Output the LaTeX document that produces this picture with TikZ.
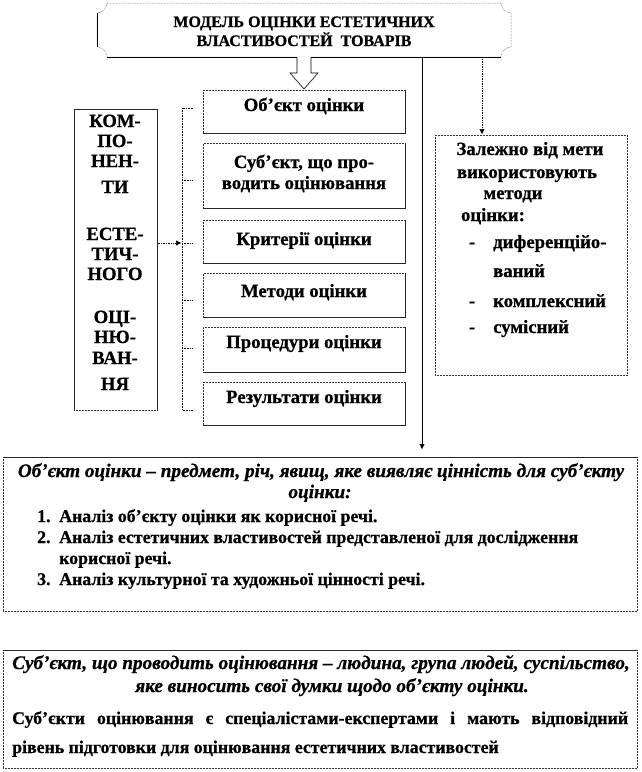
\documentclass[tikz,border=0pt]{standalone}
\usepackage{fontspec}
\setmainfont{Liberation Serif}[BoldFeatures={FakeBold=0.8}, BoldItalicFeatures={FakeBold=0.8}]
\usetikzlibrary{arrows.meta}
\begin{document}
\begin{tikzpicture}[x=1pt,y=-1pt,
  bx/.style={draw=black!80, densely dotted, line width=0.5pt, inner sep=0pt, anchor=north west},
  solidedge/.style={draw=black!85, line width=0.6pt},
  tx/.style={font=\fontsize{18.7}{21}\selectfont\bfseries, inner sep=0pt, anchor=base},
  tb/.style={font=\fontsize{17.8}{21}\selectfont\bfseries, inner sep=0pt, anchor=base west},
  ti/.style={font=\fontsize{19.2}{22}\selectfont\bfseries\itshape, inner sep=0pt, anchor=base},
  tt/.style={font=\fontsize{16}{19}\selectfont\bfseries, inner sep=0pt, anchor=base},
  arr/.style={-{Triangle[length=5pt,width=5pt]}, line width=0.6pt},
  dotarr/.style={-{Triangle[length=5pt,width=5pt]}, line width=0.7pt, densely dotted}
]
\useasboundingbox (0,0) rectangle (642,772);
\fill[white] (0,0) rectangle (642,772);

% title plaque
\node[inner sep=0pt, minimum width=414pt, minimum height=54pt] (title) at (304,30) {};
\draw[draw=black!80, line width=0.5pt, densely dotted, fill=white]
  (107,3) -- (501,3) .. controls (501,8) and (506,13) .. (511,13) -- (511,47)
  .. controls (506,47) and (501,52) .. (501,57) -- (107,57)
  .. controls (107,52) and (102,47) .. (97,47) -- (97,13)
  .. controls (102,13) and (107,8) .. cycle;
\draw[line width=1pt] (107,57) -- (501,57);
\draw[line width=0.6pt] (97,13) -- (97,47);
\node[tt] (tl1) at (304,27) {МОДЕЛЬ ОЦІНКИ ЕСТЕТИЧНИХ};
\node[tt] (tl2) at (304,46) {ВЛАСТИВОСТЕЙ\ \ ТОВАРІВ};

% centre boxes
\node[bx, minimum width=202pt, minimum height=43pt] (b1) at (203,90) {};
\node[bx, minimum width=202pt, minimum height=65pt] (b2) at (203,143) {};
\node[bx, minimum width=202pt, minimum height=43pt] (b3) at (203,220) {};
\node[bx, minimum width=202pt, minimum height=44pt] (b4) at (203,273) {};
\node[bx, minimum width=202pt, minimum height=45pt] (b5) at (203,327) {};
\node[bx, minimum width=202pt, minimum height=43pt] (b6) at (203,382) {};
\foreach \n in {b1,b2,b3,b4,b5,b6}
  \draw[solidedge] (\n.north east) -- (\n.south east) -- (\n.south west);
\node[tx] (b1t) at (304,111) {Об’єкт оцінки};
\node[tx] (b2t) at (304,168) {Суб’єкт, що про-};
\node[tx] (b2u) at (304,189) {водить оцінювання};
\node[tx] (b3t) at (304,245) {Критерії оцінки};
\node[tx] (b4t) at (304,297) {Методи оцінки};
\node[tx] (b5t) at (304,348) {Процедури оцінки};
\node[tx] (b6t) at (304,403) {Результати оцінки};

% hollow arrow from title to first box
\draw[fill=white, line width=0.6pt]
  (297,57) -- (297,73) -- (290,73) -- (304,89) -- (318,73) -- (311,73) -- (311,57);

% left box
\node[bx, minimum width=83pt, minimum height=301pt] (lb) at (74,109) {};
\draw[solidedge] (lb.north west) -- (lb.north east) -- (lb.south east);
\draw[solidedge] (lb.north west) -- (lb.south west);
\foreach \t/\y [count=\i] in {КОМ-/127, ПО-/147, НЕН-/167, ТИ/193, ЕСТЕ-/240, ТИЧ-/260, НОГО/280, ОЦІ-/323, НЮ-/343, ВАН-/364, НЯ/390}
  \node[tx] (lt\i) at (115,\y) {\t};

% bracket
\draw[line width=0.6pt, densely dotted] (193,108) -- (182,108) -- (182,410) -- (193,410);
\foreach \y in {180,243,300,348}
  \draw[line width=0.6pt, densely dotted] (182,\y) -- (193,\y);
\coordinate (brk) at (181,243);
\draw[dotarr] (lb.east |- brk) -- (brk);

% right box
\node[bx, minimum width=192pt, minimum height=240pt] (rb) at (435,135) {};
\coordinate (t2) at (482,134);
\draw[dotarr] (title.south -| t2) -- (t2);
\node[tx] (r1) at (530,155) {Залежно від мети};
\node[tx] (r2) at (527,178) {використовують};
\node[tx] (r3) at (513,199) {методи};
\node[tx] (r4) at (493,221) {оцінки:};
\node[tx] (d1) at (472,248) {-};
\node[tx, anchor=base west] (r5) at (493,248) {диференційо-};
\node[tx, anchor=base west] (r6) at (493,277) {ваний};
\node[tx] (d2) at (472,307) {-};
\node[tx, anchor=base west] (r7) at (493,307) {комплексний};
\node[tx] (d3) at (472,333) {-};
\node[tx, anchor=base west] (r8) at (493,333) {сумісний};

% bottom box 1
\node[bx, minimum width=634pt, minimum height=154pt] (ob) at (3,457) {};
\draw[solidedge] (ob.north west) -- (ob.north east);
\coordinate (t1) at (422,449);
\draw[arr] (title.south -| t1) -- (t1);
\node[ti] (o1) at (321,477) {Об’єкт оцінки – предмет, річ, явищ, яке виявляє цінність для суб’єкту};
\node[ti] (o2) at (320,498) {оцінки:};
\node[tb] (on1) at (37,522) {1.};
\node[tb] (ot1) at (59,522) {Аналіз об’єкту оцінки як корисної речі.};
\node[tb] (on2) at (37,543) {2.};
\node[tb] (ot2) at (59,543) {Аналіз естетичних властивостей представленої для дослідження};
\node[tb] (ot2b) at (59,564) {корисної речі.};
\node[tb] (on3) at (37,585) {3.};
\node[tb] (ot3) at (59,585) {Аналіз культурної та художньої цінності речі.};

% bottom box 2
\node[bx, minimum width=634pt, minimum height=118pt] (sb) at (3,650) {};
\draw[solidedge] (sb.north west) -- (sb.north east);
\node[ti] (s1) at (321,669) {Суб’єкт, що проводить оцінювання – людина, група людей, суспільство,};
\node[ti] (s2) at (332,692) {яке виносить свої думки щодо об’єкту оцінки.};
\node[tb] (s3) at (12,724) {\makebox[616pt][s]{Суб’єкти оцінювання є спеціалістами-експертами і мають відповідний}};
\node[tb] (s4) at (12,753) {рівень підготовки для оцінювання естетичних властивостей};
\end{tikzpicture}
\end{document}
